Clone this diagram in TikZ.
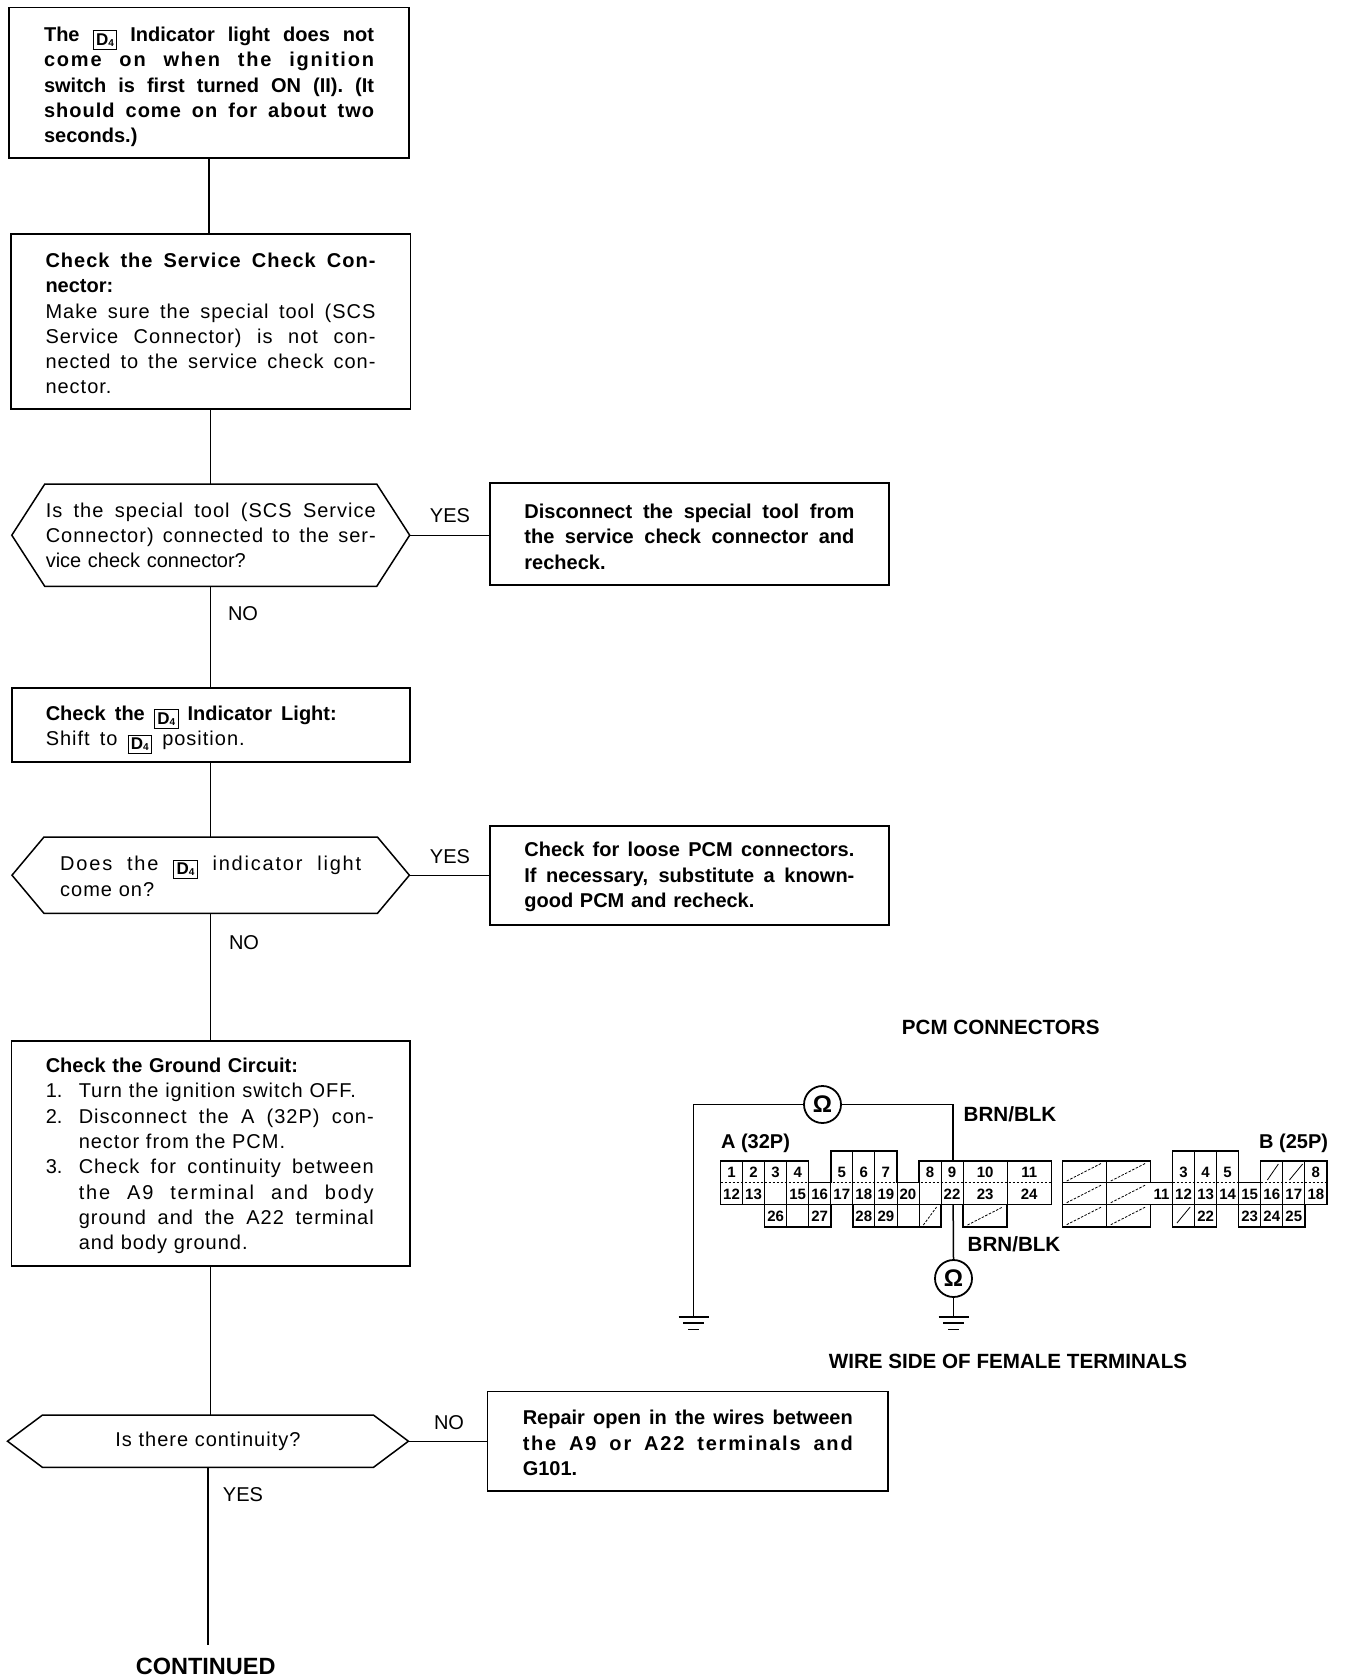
\documentclass[tikz,border=0pt]{standalone}
\usepackage{fontspec}
\setmainfont{Liberation Sans}
\newfontfamily\lsf[LetterSpace=5]{Liberation Sans}
\newfontfamily\lsg[LetterSpace=9]{Liberation Sans}
\newdimen\jw
\jw=330pt
\newcommand\js[2]{\makebox[#1][s]{\spaceskip=.28em plus 1fil\relax\xspaceskip=\spaceskip #2}}
\newcommand\jj[1]{\js{\jw}{#1}}
\newcommand\jk[1]{\js{295pt}{#1}}
\newcommand\numm[1]{\makebox[33pt][l]{#1}}
\newcommand\tp[1]{\rule{0pt}{\dimexpr15pt+#1pt\relax}}
\newcommand\dfour{\raisebox{-4pt}{\fboxsep=2.5pt\fboxrule=.9pt\fbox{\fontsize{17}{17}\selectfont\bfseries D\raisebox{-1pt}{\fontsize{10}{10}\selectfont 4}}}}
\newcommand\hexa[2]{\draw[boxline] (#1.west) -- ([xshift=#2pt]#1.north west) -- ([xshift=-#2pt]#1.north east) -- (#1.east) -- ([xshift=-#2pt]#1.south east) -- ([xshift=#2pt]#1.south west) -- cycle;}
\tikzset{
  boxline/.style={line width=1.5pt,line join=miter},
  txt/.style={font=\fontsize{20}{25.3}\selectfont,inner xsep=0pt,inner ysep=0pt},
  frame/.style={txt,draw,boxline,anchor=north west,text width=330pt,align=left},
  hexbody/.style={txt,anchor=north west,text width=330pt,align=left},
  link/.style={line width=1.3pt},
  lbl/.style={font=\fontsize{20}{24}\selectfont,inner sep=0pt},
  head/.style={font=\fontsize{20.6}{24}\selectfont\bfseries,inner sep=0pt},
  wire/.style={line width=1.5pt},
  pinno/.style={font=\fontsize{15}{15}\selectfont\bfseries,inner sep=0pt},
  outl/.style={line width=1.5pt,line join=miter},
  div/.style={line width=.8pt},
  hatch/.style={line width=.8pt,dash pattern=on 2.5pt off 1.5pt},
}
\begin{document}
\begin{tikzpicture}[x=1pt,y=-1pt]
\useasboundingbox (0,0) rectangle (1344,1678);
% flow boxes
\node[frame,inner xsep=35pt,minimum height=150pt] (b1) at (8.3,7) {\tp{8}\bfseries%
  \jj{The \dfour{} Indicator light does not}\\\jj{\lsg\bfseries come on when the ignition}\\\jj{switch is first turned ON (II). (It}\\\jj{\lsf\bfseries should come on for about two}\\seconds.)};
\node[frame,inner xsep=34.75pt,minimum height=175pt] (b2) at (10,233) {\tp{4}%
  \jj{\lsf\bfseries Check the Service Check Con-}\\\textbf{nector:}\\\jj{\lsf Make sure the special tool (SCS}\\\jj{\lsf Service Connector) is not con-}\\\jj{\lsf nected to the service check con-}\\{\lsf nector.}};
\node[hexbody,inner xsep=33.75pt,minimum height=102pt] (q1) at (11.8,484) {%
  \jj{\lsf Is the special tool (SCS Service}\\\jj{\lsf Connector) connected to the ser-}\\vice check connector?};
\hexa{q1}{33}
\node[frame,inner xsep=34.65pt,minimum height=102pt] (r1) at (489,482.3) {\tp{5}\bfseries%
  \jj{Disconnect the special tool from}\\\jj{the service check connector and}\\recheck.};
\node[frame,inner xsep=34pt,minimum height=74pt] (b3) at (11,687) {\tp{10}%
  \textbf{\js{291pt}{Check the \dfour{} Indicator Light:}}\\\js{199pt}{\lsf Shift to \dfour{} position.}};
\node[hexbody,text width=301pt,inner xsep=48pt,minimum height=76pt] (q2) at (12,837) {\tp{2}\jw=301pt%
  \jj{\lsg Does the \dfour{} indicator light}\\{\lsf come on?}};
\hexa{q2}{32}
\node[frame,inner xsep=34.65pt,minimum height=99.3pt] (r2) at (489,825) {\tp{3}\bfseries%
  \jj{Check for loose PCM connectors.}\\\jj{If necessary, substitute a known-}\\good PCM and recheck.};
\node[frame,inner xsep=34.3pt,minimum height=225pt] (b4) at (10.7,1040) {\tp{5}%
  \textbf{Check the Ground Circuit:}\\
  \numm{1.}{\lsf Turn the ignition switch OFF.}\\
  \numm{2.}\jk{\lsf Disconnect the A (32P) con-}\\
  \numm{}{\lsf nector from the PCM.}\\
  \numm{3.}\jk{\lsf Check for continuity between}\\
  \numm{}\jk{\lsg the A9 terminal and body}\\
  \numm{}\jk{\lsf ground and the A22 terminal}\\
  \numm{}{\lsf and body ground.}};
\node[hexbody,align=center,inner xsep=35.25pt,minimum height=52pt] (q3) at (7.5,1415) {{\lsf Is there continuity?}};
\hexa{q3}{35}
\node[frame,inner xsep=35.3pt,minimum height=99.3pt] (r3) at (486.7,1390.7) {\tp{3}\bfseries%
  \jj{Repair open in the wires between}\\\jj{\lsg\bfseries the A9 or A22 terminals and}\\G101.};
% labels
\node[lbl] (yes1) at (450,516) {YES};
\node[lbl] (no1) at (243,614) {NO};
\node[lbl] (yes2) at (450,857) {YES};
\node[lbl] (no2) at (244,943) {NO};
\node[lbl] (no3) at (449,1423) {NO};
\node[lbl] (yes3) at (243,1495) {YES};
\node[font=\fontsize{23.5}{26}\selectfont\bfseries,inner sep=0pt] (cont) at (205.7,1666) {CONTINUED};
\coordinate (flowend) at (q3.south |- 0,1645);
% flow links
\draw[link] (b1.south) -- (b1.south |- b2.north);
\draw[link] (b2.south) -- (b2.south |- q1.north);
\draw[link] (q1.south) -- (q1.south |- b3.north);
\draw[link] (b3.south) -- (b3.south |- q2.north);
\draw[link] (q2.south) -- (q2.south |- b4.north);
\draw[link] (b4.south) -- (b4.south |- q3.north);
\draw[link] (q3.south) -- (flowend);
\draw[link] (q1.east) -- (q1.east -| r1.west);
\draw[link] (q2.east) -- (q2.east -| r2.west);
\draw[link] (q3.east) -- (q3.east -| r3.west);
% connector titles
\node[head] (pcmt) at (1000.7,1027.5) {PCM CONNECTORS};
\node[head] (wiret) at (1008,1361) {WIRE SIDE OF FEMALE TERMINALS};
\node[head] (w1) at (1010,1114.5) {BRN/BLK};
\node[head] (w2) at (1014,1244.5) {BRN/BLK};
\node[font=\fontsize{20}{24}\selectfont\bfseries,inner sep=0pt] (ca) at (755.5,1143) {A (32P)};
\node[font=\fontsize{20}{24}\selectfont\bfseries,inner sep=0pt] (cb) at (1293.6,1143) {B (25P)};
% connector bodies
\begin{scope}[shift={(720.5,1161)},x=22.05pt,y=-1pt]
 % A
 \draw[hatch] (0,21.7) -- (15,21.7);
 \foreach \x in {1,2,3} \draw[div] (\x,0) -- (\x,43.7);
 \foreach \x in {6,7} \draw[div] (\x,-10) -- (\x,43.7);
 \foreach \x in {10,11,13} \draw[div] (\x,0) -- (\x,43.7);
 \foreach \x in {4,5,8,9} \draw[div] (\x,21.7) -- (\x,43.7);
 \foreach \x in {3,4,7,8,9} \draw[div] (\x,43.7) -- (\x,66);
 \draw[outl] (0,43.7) -- (15,43.7);
 \draw[outl] (0,0) -- (4,0) -- (4,21.7) -- (5,21.7) -- (5,-10) -- (8,-10) -- (8,21.7) -- (9,21.7) -- (9,0) -- (15,0) -- (15,43.7) -- (13,43.7) -- (13,66) -- (11,66) -- (11,43.7) -- (10,43.7) -- (10,66) -- (6,66) -- (6,43.7) -- (5,43.7) -- (5,66) -- (2,66) -- (2,43.7) -- (0,43.7) -- cycle;
 \draw[hatch] (9.2,64) -- (9.8,46);
 \draw[hatch] (11.2,64) -- (12.8,46);
 % B
 \draw[outl] (15.5,21.7) -- (17.5,21.7) (15.5,43.7) -- (27.5,43.7);
 \draw[div] (17.5,0) -- (17.5,66) (17.5,21.7) -- (19.5,21.7);
 \foreach \r in {0,21.7,43.7} {
   \draw[hatch] (15.7,\r+20) -- (17.3,\r+2);
   \draw[hatch] (17.7,\r+20) -- (19.3,\r+2);
 }
 \draw[hatch] (20.5,21.7) -- (23.5,21.7) (24.5,21.7) -- (27.5,21.7);
 \foreach \x in {21.5,22.5} \draw[div] (\x,-10) -- (\x,43.7);
 \foreach \x in {20.5,23.5,24.5,25.5,26.5} \draw[div] (\x,21.7) -- (\x,43.7);
 \foreach \x in {25.5,26.5} \draw[div] (\x,0) -- (\x,21.7);
 \foreach \x in {21.5,24.5,25.5} \draw[div] (\x,43.7) -- (\x,66);
 \draw[outl] (15.5,0) -- (19.5,0) -- (19.5,21.7) -- (20.5,21.7) -- (20.5,-10) -- (23.5,-10) -- (23.5,21.7) -- (24.5,21.7) -- (24.5,0) -- (27.5,0) -- (27.5,43.7) -- (26.5,43.7) -- (26.5,66) -- (23.5,66) -- (23.5,43.7) -- (22.5,43.7) -- (22.5,66) -- (20.5,66) -- (20.5,43.7) -- (19.5,43.7) -- (19.5,66) -- (15.5,66) -- cycle;
 \draw[div] (24.8,19) -- (25.3,3) (25.8,19) -- (26.4,3) (20.7,62) -- (21.3,46);
 % pin numbers A
 \foreach \t/\c in {1/.5,2/1.5,3/2.5,4/3.5,5/5.5,6/6.5,7/7.5,8/9.5,9/10.5,10/12,11/14}
   \node[pinno] (at\t) at (\c,11) {\t};
 \foreach \t/\c in {12/.5,13/1.5,15/3.5,16/4.5,17/5.5,18/6.5,19/7.5,20/8.5,22/10.5,23/12,24/14}
   \node[pinno] (am\t) at (\c,33) {\t};
 \foreach \t/\c in {26/2.5,27/4.5,28/6.5,29/7.5}
   \node[pinno] (ab\t) at (\c,55) {\t};
 % pin numbers B
 \foreach \t/\c in {3/21,4/22,5/23,8/27}
   \node[pinno] (bt\t) at (\c,11) {\t};
 \foreach \t/\c in {11/20,12/21,13/22,14/23,15/24,16/25,17/26,18/27}
   \node[pinno] (bm\t) at (\c,33) {\t};
 \foreach \t/\c in {22/22,23/24,24/25,25/26}
   \node[pinno] (bb\t) at (\c,55) {\t};
 \coordinate (pinnine) at (10.55,0);
 \coordinate (pintwotwo) at (10.55,43.7);
\end{scope}
% meters and wiring
\tikzset{meter/.style={draw,circle,line width=1.8pt,minimum size=37pt,inner sep=0pt,font=\fontsize{24}{24}\selectfont\bfseries}}
\node[meter] (m1) at (822.5,1104.5) {Ω};
\node[meter] (m2) at (953.5,1278.5) {Ω};
\coordinate (gl) at (693.5,1317);
\coordinate (gr) at (953.5,1317);
\draw[wire] (m1.west) -- (gl |- m1.west) -- (gl);
\draw[wire] (m1.east) -- (pinnine |- m1.east) -- (pinnine);
\draw[wire] (pintwotwo) -- (m2.north);
\draw[wire] (m2.south) -- (gr);
\foreach \g in {gl,gr} {
  \draw[wire] ([xshift=-15pt]\g) -- ([xshift=15pt]\g);
  \draw[wire] ([xshift=-10.5pt,yshift=-6pt]\g) -- ([xshift=10.5pt,yshift=-6pt]\g);
  \draw[wire] ([xshift=-5.5pt,yshift=-12.5pt]\g) -- ([xshift=5.5pt,yshift=-12.5pt]\g);
}
\end{tikzpicture}
\end{document}
